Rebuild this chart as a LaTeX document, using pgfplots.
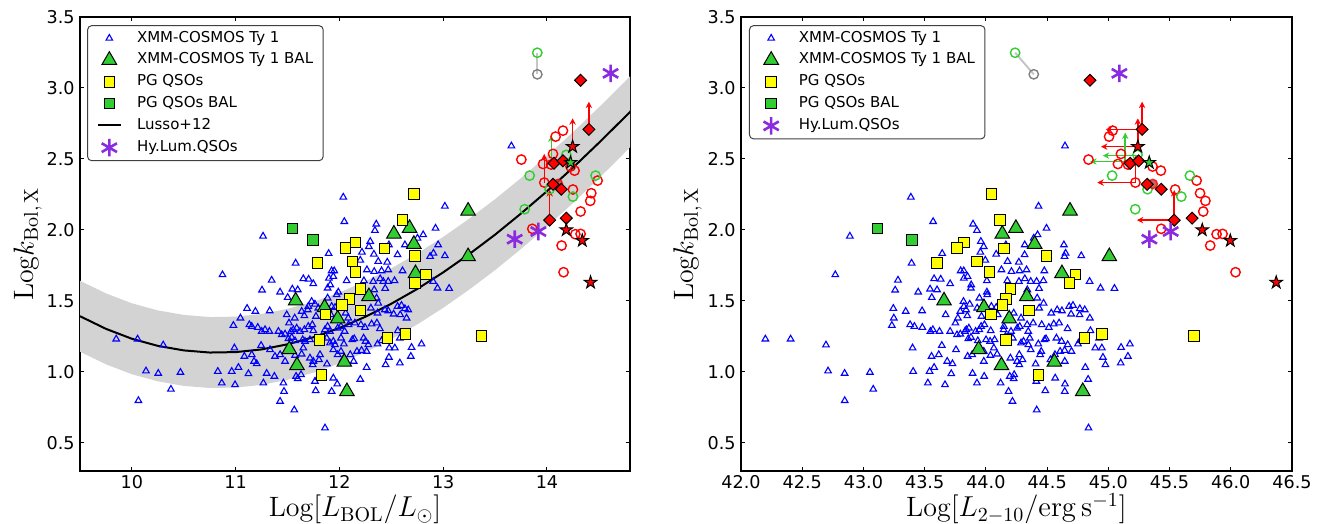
\documentclass[border=0pt]{standalone}
\usepackage[no-math]{fontspec}
\setsansfont{DejaVu Sans}
\usepackage{pgfplots}
\pgfplotsset{compat=1.18}
\usepackage{pgfplotstable}
\usetikzlibrary{arrows.meta}
\definecolor{cblue}{RGB}{0,0,255}
\definecolor{cred}{RGB}{255,0,0}
\definecolor{cgreen}{RGB}{50,205,50}
\definecolor{cpurple}{RGB}{138,43,226}
\definecolor{cyellow}{RGB}{255,255,0}
\definecolor{cband}{RGB}{211,211,211}

\pgfdeclareplotmark{fstar}{%
  \pgfpathmoveto{\pgfqpointpolar{90}{\pgfplotmarksize}}%
  \pgfpathlineto{\pgfqpointpolar{126}{0.382\pgfplotmarksize}}%
  \pgfpathlineto{\pgfqpointpolar{162}{\pgfplotmarksize}}%
  \pgfpathlineto{\pgfqpointpolar{198}{0.382\pgfplotmarksize}}%
  \pgfpathlineto{\pgfqpointpolar{234}{\pgfplotmarksize}}%
  \pgfpathlineto{\pgfqpointpolar{270}{0.382\pgfplotmarksize}}%
  \pgfpathlineto{\pgfqpointpolar{306}{\pgfplotmarksize}}%
  \pgfpathlineto{\pgfqpointpolar{342}{0.382\pgfplotmarksize}}%
  \pgfpathlineto{\pgfqpointpolar{18}{\pgfplotmarksize}}%
  \pgfpathlineto{\pgfqpointpolar{54}{0.382\pgfplotmarksize}}%
  \pgfpathclose\pgfusepathqfillstroke}

% XMM-COSMOS Type 1: Log L_BOL/Lsun, Log k_Bol,X
\pgfplotstableread{
lb k
9.849 1.230
10.055 1.230
10.302 1.188
10.136 1.005
10.254 0.988
10.468 0.995
10.063 0.796
10.376 0.876
13.657 2.591
12.037 2.230
13.016 2.166
12.047 2.058
12.355 2.040
12.342 1.995
12.926 2.011
11.264 1.955
12.807 1.965
12.752 1.941
12.297 1.918
12.284 1.882
12.477 1.894
12.631 1.894
12.951 1.894
11.896 1.833
12.217 1.842
12.332 1.828
12.560 1.824
12.906 1.835
12.874 1.812
13.016 1.817
12.374 1.777
12.461 1.772
12.201 1.786
11.578 1.765
10.873 1.683
11.925 1.711
11.950 1.711
12.265 1.718
12.335 1.706
12.406 1.711
12.470 1.718
12.608 1.711
11.347 1.645
11.652 1.655
11.703 1.652
11.748 1.620
11.899 1.659
11.941 1.671
11.912 1.612
12.069 1.641
12.236 1.641
12.326 1.636
12.393 1.655
12.422 1.636
12.441 1.587
12.470 1.636
12.531 1.641
11.254 1.575
11.428 1.561
11.501 1.523
11.546 1.582
11.598 1.577
11.886 1.589
11.989 1.561
11.973 1.542
11.886 1.519
11.732 1.495
11.700 1.460
12.335 1.577
12.358 1.519
12.374 1.483
12.945 1.589
13.057 1.587
12.903 1.636
12.560 1.460
12.598 1.467
12.631 1.444
11.110 1.446
11.190 1.425
11.328 1.429
11.492 1.401
11.514 1.343
11.569 1.378
11.636 1.425
11.662 1.394
11.694 1.436
11.764 1.476
11.797 1.448
11.774 1.390
11.925 1.460
11.957 1.453
11.918 1.401
12.060 1.413
12.085 1.378
12.303 1.448
12.367 1.413
12.438 1.436
12.470 1.429
12.522 1.406
12.586 1.401
12.647 1.378
12.663 1.436
11.046 1.378
10.978 1.326
11.132 1.331
11.155 1.319
11.213 1.312
11.251 1.284
11.283 1.296
11.325 1.284
11.412 1.284
11.444 1.260
11.476 1.265
11.533 1.284
11.556 1.296
11.588 1.307
11.620 1.284
11.662 1.296
11.700 1.319
11.739 1.331
11.748 1.289
11.861 1.296
11.886 1.319
11.909 1.284
11.983 1.307
12.015 1.319
12.050 1.284
12.088 1.331
12.149 1.343
12.207 1.331
12.246 1.312
12.310 1.336
12.361 1.343
12.390 1.303
11.508 1.232
11.540 1.242
11.572 1.218
11.646 1.225
11.668 1.214
11.716 1.225
11.829 1.249
11.877 1.237
11.909 1.202
11.941 1.214
12.015 1.237
12.043 1.195
12.124 1.225
12.143 1.232
12.233 1.237
12.252 1.214
12.278 1.190
12.367 1.195
12.406 1.218
12.563 1.289
12.582 1.237
12.480 1.167
12.534 1.167
12.695 1.171
12.791 1.195
12.688 1.108
10.988 1.167
11.084 1.108
11.155 1.120
11.203 1.056
11.177 1.073
11.245 1.185
11.331 1.155
11.379 1.108
11.428 1.120
11.476 1.073
11.546 1.143
11.572 1.115
11.652 1.167
11.636 1.124
11.716 1.096
11.748 1.073
11.742 1.049
11.813 1.120
11.803 1.084
11.880 1.054
11.941 1.155
11.957 1.190
11.983 1.120
12.015 1.143
12.031 1.084
12.104 1.120
12.137 1.073
12.169 1.143
12.213 1.150
12.262 1.143
12.445 1.049
12.477 1.101
12.582 1.061
10.828 1.002
10.962 1.002
11.027 1.030
11.123 0.986
11.299 0.988
11.373 0.967
11.460 0.920
11.582 0.967
11.598 0.951
11.630 0.979
11.764 0.932
11.797 0.960
11.941 0.955
11.979 0.913
12.262 1.030
12.201 0.946
10.866 0.920
10.994 0.908
11.267 0.920
11.466 0.861
11.428 0.791
11.771 0.866
11.925 0.861
11.565 0.730
11.861 0.603
}\tyone

\pgfplotstableread{
lb k
13.240 2.133
12.525 1.971
12.676 2.011
12.717 1.899
13.240 1.812
12.733 1.692
12.284 1.530
11.578 1.500
11.857 1.453
11.983 1.373
11.517 1.157
11.591 1.044
12.047 1.068
12.072 0.861
}\tyonebal

\pgfplotstableread{
lb k
12.717 2.253
12.605 2.070
12.153 1.911
12.056 1.873
12.435 1.868
12.727 1.814
12.124 1.777
11.787 1.765
12.153 1.702
12.836 1.683
12.727 1.624
12.204 1.582
12.095 1.512
12.024 1.469
12.204 1.432
11.864 1.401
12.464 1.237
12.634 1.267
11.806 1.223
11.825 0.976
13.370 1.251
}\pgq

\pgfplotstableread{
lb k
11.546 2.011
11.745 1.927
}\pgbal

\pgfplotstableread{
lb k
13.753 2.495
13.962 2.464
13.974 2.333
14.058 2.535
14.083 2.657
14.154 2.699
14.266 2.417
14.227 2.446
14.040 2.460
14.250 2.284
14.488 2.347
14.427 2.258
14.417 2.204
14.324 2.129
13.859 2.007
14.273 1.969
14.324 1.971
14.141 1.889
14.160 1.701
}\redcirc

\pgfplotstableread{
lb k
13.907 3.248
13.833 2.382
13.785 2.145
14.026 2.286
14.186 2.528
14.250 2.234
14.468 2.382
}\greencirc

\pgfplotstableread{
lb k
13.907 3.096
}\graycirc

\pgfplotstableread{
lb k
14.106 2.323
}\redfill

\pgfplotstableread{
lb k
14.324 3.054
14.404 2.708
14.067 2.469
14.154 2.486
14.058 2.321
14.138 2.286
14.026 2.068
14.186 2.082
}\reddiam

\pgfplotstableread{
lb k
14.247 2.586
14.186 1.999
14.340 1.924
14.420 1.629
}\redstar

\pgfplotstableread{
lb k
14.228 2.474
}\greenstar

\pgfplotstableread{
lb k
14.613 3.103
13.689 1.934
13.917 1.988
}\hylum

\pgfplotsset{
  panel/.style={
    scale only axis, width=275pt, height=227pt,
    ymin=0.3, ymax=3.5,
    ytick={0.5,1.0,1.5,2.0,2.5,3.0,3.5},
    tick align=inside, major tick length=2pt,
    every tick/.style={black, line width=0.5pt},
    axis line style={line width=0.75pt},
    /pgf/number format/assume math mode=true,
    tick label style={font=\sffamily\fontsize{8.8}{10}\selectfont},
    y tick label style={/pgf/number format/.cd, fixed, fixed zerofill, precision=1, /tikz/.cd, inner sep=0pt, xshift=-2.5pt},
    x tick label style={inner sep=0pt, yshift=-2.2pt},
    legend cell align=left,
    legend style={font=\sffamily\fontsize{7.5}{9}\selectfont, draw=black!75, line width=0.5pt,
      rounded corners=2pt, inner xsep=4.5pt, inner ysep=2.1pt, row sep=2.5pt,
      anchor=north west, nodes={inner sep=0.5pt, text height=5.6pt, text depth=1.8pt}},
    legend image code/.code={\draw[mark repeat=2,mark phase=2,##1] plot coordinates {(0cm,0cm) (0.2cm,0cm) (0.4cm,0cm)};
      \path (0cm,0cm) (0.4cm+7pt,0cm);},
    xlabel style={font=\fontsize{14}{16}\selectfont, at={(axis description cs:0.5,0)}, anchor=base, yshift=-23pt},
    ylabel style={font=\fontsize{14}{16}\selectfont, anchor=center},
  },
  tyone/.style={only marks, mark=triangle, mark size=1.9pt, color=cblue, line width=0.55pt},
  balst/.style={only marks, mark=triangle*, mark size=4.2pt, mark options={fill=cgreen, draw=black, line width=0.5pt}},
  pgst/.style={only marks, mark=square*, mark size=2.6pt, mark options={fill=cyellow, draw=black, line width=0.5pt}},
  pgbalst/.style={only marks, mark=square*, mark size=2.6pt, mark options={fill=cgreen, draw=black, line width=0.5pt}},
  hylst/.style={only marks, mark=asterisk, mark size=4.4pt, color=cpurple, line width=1.3pt},
  rcst/.style={only marks, mark=o, mark size=2.35pt, color=cred, line width=0.7pt},
  gcst/.style={only marks, mark=o, mark size=2.35pt, color=cgreen, line width=0.7pt},
  gycst/.style={only marks, mark=o, mark size=2.35pt, color=gray, line width=0.7pt},
  rfst/.style={only marks, mark=*, mark size=2.35pt, mark options={fill=red!55!gray, draw=cred, line width=0.7pt, opacity=0.8}},
  diamst/.style={only marks, mark=square*, mark size=2.1pt, mark options={rotate=45, fill=cred, draw=black, line width=0.5pt}},
  rstarst/.style={only marks, mark=fstar, mark size=3.3pt, mark options={fill=cred, draw=black, line width=0.5pt}},
  gstarst/.style={only marks, mark=fstar, mark size=3.3pt, mark options={fill=cgreen, draw=black, line width=0.5pt}},
  rarr/.style={cred, line width=0.75pt, -{Stealth[length=3.2pt,width=3.2pt]}},
  garr/.style={cgreen, line width=0.75pt, -{Stealth[length=3.2pt,width=3.2pt]}},
}

\begin{document}
\begin{tikzpicture}
\path[use as bounding box] (0,0) rectangle (660.5pt,262pt);

% ---------------- left panel ----------------
\begin{axis}[panel, at={(40pt,26.5pt)}, anchor=south west,
  xmin=9.5, xmax=14.8, xtick={10,11,12,13,14},
  xlabel={Log$[L_{\mathrm{BOL}}/L_{\odot}]$},
  ylabel={Log$k_{\mathrm{Bol,\,X}}$},
  ylabel style={at={(axis description cs:-0.095,0.5)}},
  legend style={at={(0.013,0.982)}}]
\addlegendimage{tyone}\addlegendentry{XMM-COSMOS Ty 1}
\addlegendimage{balst}\addlegendentry{XMM-COSMOS Ty 1 BAL}
\addlegendimage{pgst}\addlegendentry{PG QSOs}
\addlegendimage{pgbalst}\addlegendentry{PG QSOs BAL}
\addlegendimage{black, line width=1pt}\addlegendentry{Lusso+12}
\addlegendimage{hylst}\addlegendentry{Hy.Lum.QSOs}

\addplot[fill=cband, draw=none, forget plot] coordinates {
(9.5,1.641) (9.75,1.552) (10,1.482) (10.25,1.432) (10.5,1.400) (10.75,1.385)
(11,1.388) (11.25,1.407) (11.5,1.443) (11.75,1.493) (12,1.558) (12.25,1.637)
(12.5,1.729) (12.75,1.833) (13,1.950) (13.25,2.078) (13.5,2.216) (13.75,2.365)
(14,2.522) (14.25,2.688) (14.5,2.863) (14.75,3.044) (14.85,3.118)
(14.85,2.618) (14.75,2.544) (14.5,2.363) (14.25,2.188) (14,2.022) (13.75,1.865)
(13.5,1.716) (13.25,1.578) (13,1.450) (12.75,1.333) (12.5,1.229) (12.25,1.137)
(12,1.058) (11.75,0.993) (11.5,0.943) (11.25,0.907) (11,0.888) (10.75,0.885)
(10.5,0.900) (10.25,0.932) (10,0.982) (9.75,1.052) (9.5,1.141)};
\addplot[black, line width=1pt, forget plot] coordinates {
(9.5,1.391) (9.75,1.302) (10,1.232) (10.25,1.182) (10.5,1.150) (10.75,1.135)
(11,1.138) (11.25,1.157) (11.5,1.193) (11.75,1.243) (12,1.308) (12.25,1.387)
(12.5,1.479) (12.75,1.583) (13,1.700) (13.25,1.828) (13.5,1.966) (13.75,2.115)
(14,2.272) (14.25,2.438) (14.5,2.613) (14.75,2.794) (14.85,2.868)};

\addplot[tyone, forget plot] table[x=lb, y=k] {\tyone};
\addplot[balst, forget plot] table[x=lb, y=k] {\tyonebal};
\addplot[pgst, forget plot] table[x=lb, y=k] {\pgq};
\addplot[pgbalst, forget plot] table[x=lb, y=k] {\pgbal};

\addplot[gray!45, line width=1pt, forget plot] coordinates {(13.907,3.248) (13.907,3.096)};
\addplot[rcst, forget plot] table[x=lb, y=k] {\redcirc};
\addplot[gcst, forget plot] table[x=lb, y=k] {\greencirc};
\addplot[gycst, forget plot] table[x=lb, y=k] {\graycirc};
\addplot[rfst, forget plot] table[x=lb, y=k] {\redfill};
\addplot[rarr, forget plot] coordinates {(14.404,2.708) (14.404,2.903)};
\addplot[rarr, forget plot] coordinates {(14.247,2.586) (14.247,2.786)};
\addplot[rarr, forget plot] coordinates {(13.974,2.333) (13.974,2.535)};
\addplot[rarr, forget plot] coordinates {(14.026,2.068) (14.026,2.280)};
\addplot[garr, forget plot] coordinates {(14.042,2.493) (14.042,2.665)};
\addplot[diamst, forget plot] table[x=lb, y=k] {\reddiam};
\addplot[rstarst, forget plot] table[x=lb, y=k] {\redstar};
\addplot[gstarst, forget plot] table[x=lb, y=k] {\greenstar};
\addplot[hylst, forget plot] table[x=lb, y=k] {\hylum};
\end{axis}

% ---------------- right panel ----------------
\begin{axis}[panel, at={(370.5pt,26.5pt)}, anchor=south west,
  width=275.5pt,
  xmin=42, xmax=46.5, xtick={42,42.5,43,43.5,44,44.5,45,45.5,46,46.5},
  x tick label style={/pgf/number format/.cd, fixed, fixed zerofill, precision=1},
  xlabel={Log$[L_{2-10}/\mathrm{erg\,s^{-1}}]$},
  ylabel={Log$k_{\mathrm{Bol,\,X}}$},
  ylabel style={at={(axis description cs:-0.097,0.5)}},
  legend style={at={(0.0145,0.982)}}]
\addlegendimage{tyone}\addlegendentry{XMM-COSMOS Ty 1}
\addlegendimage{balst}\addlegendentry{XMM-COSMOS Ty 1 BAL}
\addlegendimage{pgst}\addlegendentry{PG QSOs}
\addlegendimage{pgbalst}\addlegendentry{PG QSOs BAL}
\addlegendimage{hylst}\addlegendentry{Hy.Lum.QSOs}

\addplot[tyone, forget plot] table[x expr=\thisrow{lb}+33.58-\thisrow{k}, y=k] {\tyone};
\addplot[balst, forget plot] table[x expr=\thisrow{lb}+33.58-\thisrow{k}, y=k] {\tyonebal};
\addplot[pgst, forget plot] table[x expr=\thisrow{lb}+33.58-\thisrow{k}, y=k] {\pgq};
\addplot[pgbalst, forget plot] table[x expr=\thisrow{lb}+33.58-\thisrow{k}, y=k] {\pgbal};

\addplot[gray!45, line width=1pt, forget plot] coordinates {(44.239,3.248) (44.391,3.096)};
\addplot[rcst, forget plot] table[x expr=\thisrow{lb}+33.58-\thisrow{k}, y=k] {\redcirc};
\addplot[gcst, forget plot] table[x expr=\thisrow{lb}+33.58-\thisrow{k}, y=k] {\greencirc};
\addplot[gycst, forget plot] table[x expr=\thisrow{lb}+33.58-\thisrow{k}, y=k] {\graycirc};
\addplot[rfst, forget plot] table[x expr=\thisrow{lb}+33.58-\thisrow{k}, y=k] {\redfill};
\addplot[rarr, forget plot] coordinates {(45.276,2.708) (45.276,2.903)};
\addplot[rarr, forget plot] coordinates {(45.276,2.708) (44.980,2.708)};
\addplot[rarr, forget plot] coordinates {(45.241,2.586) (45.241,2.786)};
\addplot[rarr, forget plot] coordinates {(45.241,2.586) (44.940,2.586)};
\addplot[rarr, forget plot] coordinates {(45.221,2.333) (45.221,2.520)};
\addplot[rarr, forget plot] coordinates {(45.221,2.333) (44.910,2.333)};
\addplot[rarr, forget plot] coordinates {(45.538,2.068) (45.538,2.280)};
\addplot[rarr, forget plot] coordinates {(45.538,2.068) (45.233,2.068)};
\addplot[garr, forget plot] coordinates {(45.138,2.481) (45.138,2.685)};
\addplot[garr, forget plot] coordinates {(45.247,2.523) (44.955,2.523)};
\addplot[garr, forget plot] coordinates {(45.334,2.481) (44.852,2.481)};
\addplot[diamst, forget plot] table[x expr=\thisrow{lb}+33.58-\thisrow{k}, y=k] {\reddiam};
\addplot[rstarst, forget plot] table[x expr=\thisrow{lb}+33.58-\thisrow{k}, y=k] {\redstar};
\addplot[gstarst, forget plot] table[x expr=\thisrow{lb}+33.58-\thisrow{k}, y=k] {\greenstar};
\addplot[hylst, forget plot] table[x expr=\thisrow{lb}+33.58-\thisrow{k}, y=k] {\hylum};
\end{axis}
\end{tikzpicture}
\end{document}
